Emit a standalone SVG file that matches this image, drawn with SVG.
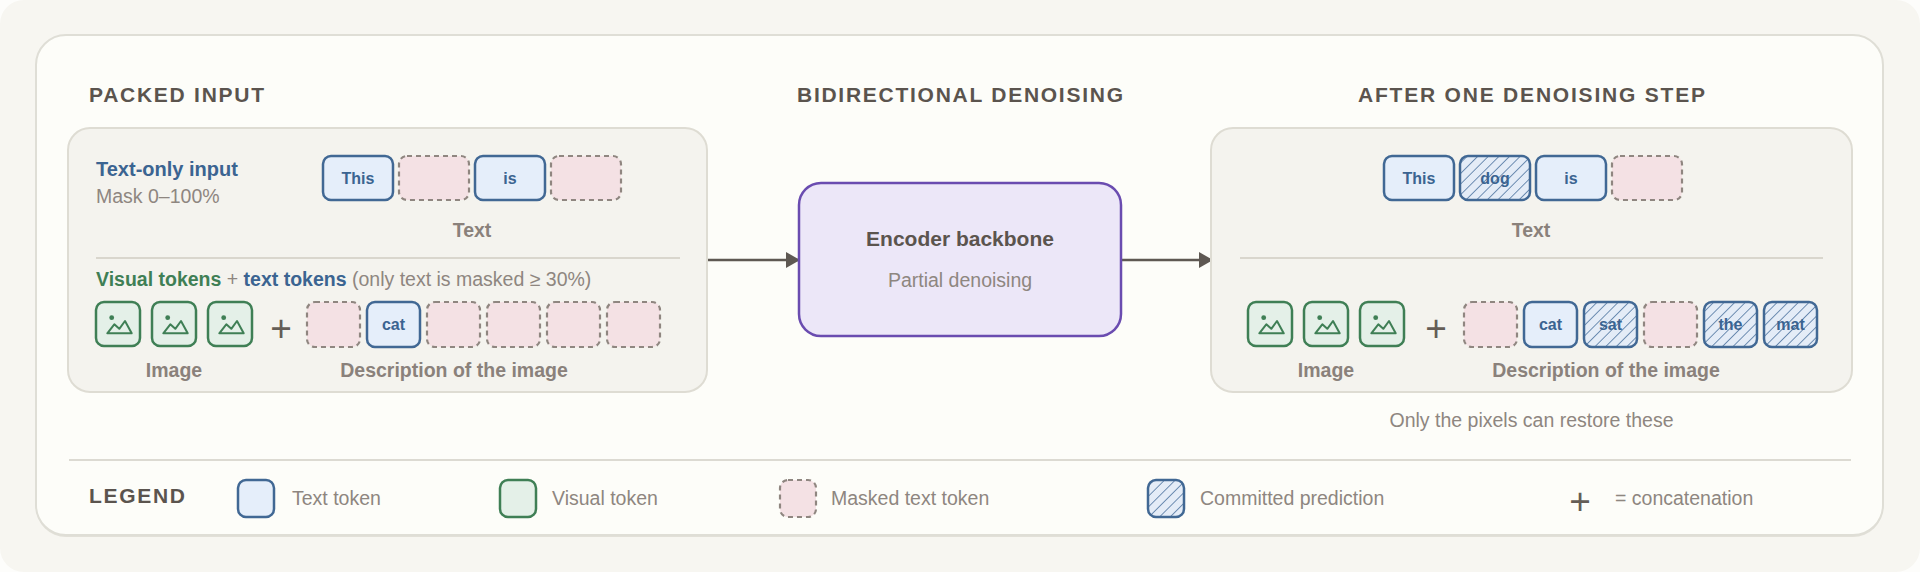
<svg xmlns="http://www.w3.org/2000/svg" width="1920" height="572" viewBox="0 0 1920 572">
  <style>
    .title { font-family: "Liberation Sans", Arial, sans-serif; font-weight: bold; font-size: 21px; fill: #5b544e; }
    .lbl { font-family: "Liberation Sans", Arial, sans-serif; font-weight: bold; font-size: 19.5px; fill: #8a817b; text-anchor: middle; }
    .reg { font-family: "Liberation Sans", Arial, sans-serif; font-size: 19.5px; fill: #8e8680; }
    .tok { font-family: "Liberation Sans", Arial, sans-serif; font-weight: bold; font-size: 16px; fill: #3b6491; text-anchor: middle; }
    .blueB { font-weight: bold; fill: #3b6491; }
    .greenB { font-weight: bold; fill: #3f7f55; }
    .plus { font-family: "Liberation Sans", Arial, sans-serif; font-size: 37px; fill: #645d56; text-anchor: middle; }
    .ttok { fill: #e5eefa; stroke: #416894; stroke-width: 2.5; }
    .mtok { fill: #f4e1e4; stroke: #8f8680; stroke-width: 2.2; stroke-dasharray: 5 4; }
    .ctok { fill: url(#hatch); stroke: #416894; stroke-width: 2.5; }
    .vtok { fill: #e4f0e8; stroke: #3f7f55; stroke-width: 2.5; }
    .panel { fill: #f4f3ee; stroke: #dedcd3; stroke-width: 2; }
    .div { stroke: #d9d6cd; stroke-width: 2; }
    .conn { stroke: #5e5852; stroke-width: 2.5; fill: none; }
  </style>
  <defs>
    <pattern id="hatch" patternUnits="userSpaceOnUse" width="7.5" height="7.5" patternTransform="rotate(45)">
      <rect width="7.5" height="7.5" fill="#e4ecf7"/>
      <line x1="0" y1="0" x2="0" y2="7.5" stroke="#5a7ea7" stroke-width="1.7"/>
    </pattern>
    <marker id="arrow" markerWidth="14" markerHeight="16" refX="13" refY="8" orient="auto" markerUnits="userSpaceOnUse">
      <path d="M0,0 L14,8 L0,16 Z" fill="#5e5852"/>
    </marker>
    <g id="vicon">
      <rect x="0" y="0" width="44" height="44" rx="8" class="vtok"/>
      <circle cx="15.7" cy="15.7" r="2.4" fill="#3f7f55"/>
      <path d="M11.3,31.3 L18.3,22.3 L23.3,26.8 L29,19 L35.7,31.3 Z" fill="none" stroke="#3f7f55" stroke-width="2" stroke-linejoin="round"/>
    </g>
  </defs>

  <rect x="0" y="0" width="1920" height="572" fill="#fdfdfb"/>
  <rect x="0" y="0" width="1920" height="572" rx="24" fill="#f7f6f1"/>
  <rect x="36" y="37" width="1847" height="500" rx="30" fill="#e2e0d8"/>
  <rect x="36" y="35" width="1847" height="500" rx="30" fill="#fdfdf9" stroke="#dfded6" stroke-width="2"/>

  <text class="title" x="89" y="102" textLength="175" lengthAdjust="spacing">PACKED INPUT</text>
  <text class="title" x="797" y="102" textLength="326" lengthAdjust="spacing">BIDIRECTIONAL DENOISING</text>
  <text class="title" x="1358" y="102" textLength="347" lengthAdjust="spacing">AFTER ONE DENOISING STEP</text>

  <g id="connectors">
    <line class="conn" x1="707" y1="260" x2="799" y2="260" marker-end="url(#arrow)"/>
    <line class="conn" x1="1121" y1="260" x2="1212" y2="260" marker-end="url(#arrow)"/>
  </g>

  <g id="packed-input">
    <rect class="panel" x="68" y="128" width="639" height="264" rx="22"/>
    <text x="96" y="176" font-family="Liberation Sans, Arial, sans-serif" font-size="20" class="blueB">Text-only input</text>
    <text class="reg" x="96" y="203">Mask 0–100%</text>
    <rect class="ttok" x="323" y="156" width="70" height="44" rx="8"/>
    <text class="tok" x="358" y="184">This</text>
    <rect class="mtok" x="399" y="156" width="70" height="44" rx="8"/>
    <rect class="ttok" x="475" y="156" width="70" height="44" rx="8"/>
    <text class="tok" x="510" y="184">is</text>
    <rect class="mtok" x="551" y="156" width="70" height="44" rx="8"/>
    <text class="lbl" x="472" y="237" font-size="19">Text</text>
    <line class="div" x1="96" y1="258" x2="680" y2="258"/>
    <text class="reg" x="96" y="286"><tspan class="greenB">Visual tokens</tspan> + <tspan class="blueB">text tokens</tspan> (only text is masked ≥ 30%)</text>
    <use href="#vicon" x="96" y="302"/>
    <use href="#vicon" x="152" y="302"/>
    <use href="#vicon" x="208" y="302"/>
    <text class="plus" x="281" y="341">+</text>
    <rect class="mtok" x="307" y="302" width="53" height="45" rx="8"/>
    <rect class="ttok" x="367" y="302" width="53" height="45" rx="8"/>
    <text class="tok" x="393.5" y="330">cat</text>
    <rect class="mtok" x="427" y="302" width="53" height="45" rx="8"/>
    <rect class="mtok" x="487" y="302" width="53" height="45" rx="8"/>
    <rect class="mtok" x="547" y="302" width="53" height="45" rx="8"/>
    <rect class="mtok" x="607" y="302" width="53" height="45" rx="8"/>
    <text class="lbl" x="174" y="377">Image</text>
    <text class="lbl" x="454" y="377">Description of the image</text>
  </g>

  <g id="encoder">
    <rect x="799" y="183" width="322" height="153" rx="22" fill="#ece7f8" stroke="#6a4cb0" stroke-width="2.5"/>
    <text x="960" y="246" font-family="Liberation Sans, Arial, sans-serif" font-weight="bold" font-size="21" fill="#5b544e" text-anchor="middle">Encoder backbone</text>
    <text class="reg" x="960" y="287" text-anchor="middle">Partial denoising</text>
  </g>

  <g id="after-step">
    <rect class="panel" x="1211" y="128" width="641" height="264" rx="22"/>
    <rect class="ttok" x="1384" y="156" width="70" height="44" rx="8"/>
    <text class="tok" x="1419" y="184">This</text>
    <rect class="ctok" x="1460" y="156" width="70" height="44" rx="8"/>
    <text class="tok" x="1495" y="184">dog</text>
    <rect class="ttok" x="1536" y="156" width="70" height="44" rx="8"/>
    <text class="tok" x="1571" y="184">is</text>
    <rect class="mtok" x="1612" y="156" width="70" height="44" rx="8"/>
    <text class="lbl" x="1531" y="237" font-size="19">Text</text>
    <line class="div" x1="1240" y1="258" x2="1823" y2="258"/>
    <use href="#vicon" x="1248" y="302"/>
    <use href="#vicon" x="1304" y="302"/>
    <use href="#vicon" x="1360" y="302"/>
    <text class="plus" x="1436" y="341">+</text>
    <rect class="mtok" x="1464" y="302" width="53" height="45" rx="8"/>
    <rect class="ttok" x="1524" y="302" width="53" height="45" rx="8"/>
    <text class="tok" x="1550.5" y="330">cat</text>
    <rect class="ctok" x="1584" y="302" width="53" height="45" rx="8"/>
    <text class="tok" x="1610.5" y="330">sat</text>
    <rect class="mtok" x="1644" y="302" width="53" height="45" rx="8"/>
    <rect class="ctok" x="1704" y="302" width="53" height="45" rx="8"/>
    <text class="tok" x="1730.5" y="330">the</text>
    <rect class="ctok" x="1764" y="302" width="53" height="45" rx="8"/>
    <text class="tok" x="1790.5" y="330">mat</text>
    <text class="lbl" x="1326" y="377">Image</text>
    <text class="lbl" x="1606" y="377">Description of the image</text>
    <text class="reg" x="1531.5" y="427" text-anchor="middle" font-size="20">Only the pixels can restore these</text>
  </g>

  <g id="legend">
    <line x1="69" y1="460" x2="1851" y2="460" stroke="#dcdad2" stroke-width="2"/>
    <text class="title" x="89" y="503" font-size="20" textLength="96" lengthAdjust="spacing">LEGEND</text>
    <rect class="ttok" x="238" y="480" width="36" height="37" rx="8"/>
    <text class="reg" x="292" y="505">Text token</text>
    <rect class="vtok" x="500" y="480" width="36" height="37" rx="8"/>
    <text class="reg" x="552" y="505">Visual token</text>
    <rect class="mtok" x="780" y="480" width="36" height="37" rx="8"/>
    <text class="reg" x="831" y="505">Masked text token</text>
    <rect class="ctok" x="1148" y="480" width="36" height="37" rx="8"/>
    <text class="reg" x="1200" y="505">Committed prediction</text>
    <text class="plus" x="1580" y="514" font-size="34">+</text>
    <text class="reg" x="1615" y="505">= concatenation</text>
  </g>
</svg>
